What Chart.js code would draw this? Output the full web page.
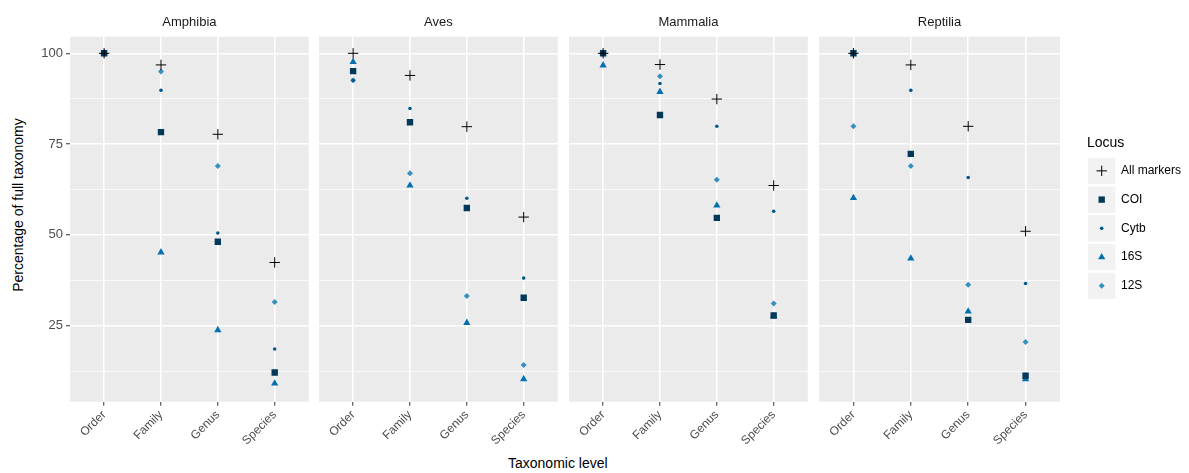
<!DOCTYPE html>
<html><head><meta charset="utf-8">
<script src="https://cdn.jsdelivr.net/npm/chart.js@4/dist/chart.umd.min.js"></script>
<style>
html,body{margin:0;padding:0;background:#fff;}
#wrap{position:relative;width:1189px;height:473px;overflow:hidden;font-family:"Liberation Sans",Arial,sans-serif;}
#wrap canvas{position:absolute;top:0;}
.atitle{position:absolute;color:#000;font-size:14px;line-height:16px;white-space:nowrap;}
</style></head><body>
<div id="wrap">
  <div id="xtitle" class="atitle" style="left:508px;top:455px;">Taxonomic level</div>
  <div id="ytitle" class="atitle" style="left:18px;top:205px;transform:translate(-50%,-50%) rotate(-90deg);">Percentage of full taxonomy</div>
</div>
<script>
// ---- data ----
const categories = ['Order', 'Family', 'Genus', 'Species'];
const classes = ['Amphibia', 'Aves', 'Mammalia', 'Reptilia'];
const loci = ['All markers', 'COI', 'Cytb', '16S', '12S'];
const yTickLabels = [25, 50, 75, 100];
const yMinorTicks = [12.5, 37.5, 62.5, 87.5];

const amphibiaAll  = [100, 96.8, 77.7, 42.4];
const amphibiaCOI  = [100, 78.3, 48.1, 12.1];
const amphibiaCytb = [100, 89.8, 50.5, 18.6];
const amphibia16S  = [100, 45.2, 23.8, 9.1];
const amphibia12S  = [100, 95.0, 69.0, 31.5];

const avesAll  = [100, 93.9, 79.8, 54.9];
const avesCOI  = [95.1, 81.0, 57.4, 32.7];
const avesCytb = [92.5, 84.8, 60.1, 38.1];
const aves16S  = [97.6, 63.6, 25.8, 10.3];
const aves12S  = [92.6, 67.0, 33.2, 14.2];

const mammaliaAll  = [100, 96.9, 87.4, 63.6];
const mammaliaCOI  = [100, 83.0, 54.7, 27.8];
const mammaliaCytb = [100, 91.7, 79.9, 56.5];
const mammalia16S  = [96.7, 89.4, 58.1, 27.6];
const mammalia12S  = [100, 93.7, 65.2, 31.1];

const reptiliaAll  = [100, 96.8, 79.9, 51.0];
const reptiliaCOI  = [100, 72.3, 26.6, 11.2];
const reptiliaCytb = [100, 89.8, 65.8, 36.6];
const reptilia16S  = [60.2, 43.5, 28.9, 10.3];
const reptilia12S  = [79.9, 69.0, 36.3, 20.5];

const seriesByClass = {
  Amphibia: [amphibiaAll, amphibiaCOI, amphibiaCytb, amphibia16S, amphibia12S],
  Aves:     [avesAll, avesCOI, avesCytb, aves16S, aves12S],
  Mammalia: [mammaliaAll, mammaliaCOI, mammaliaCytb, mammalia16S, mammalia12S],
  Reptilia: [reptiliaAll, reptiliaCOI, reptiliaCytb, reptilia16S, reptilia12S]
};

// ---- styles / layout ----
const FONT = '"Liberation Sans", Arial, sans-serif';
const locusStyle = [
  {pointStyle: 'cross',    radius: 5.2, color: '#000000', borderWidth: 1.0},
  {pointStyle: 'rect',     radius: 4.5, color: '#023858', borderWidth: 0},
  {pointStyle: 'circle',   radius: 1.8, color: '#045a8d', borderWidth: 0},
  {pointStyle: 'triangle', radius: 4.2, color: '#0570b0', borderWidth: 0},
  {pointStyle: 'rectRot',  radius: 3.0, color: '#3690c0', borderWidth: 0}
];
const W = 1189, H = 473;
const PANEL_TOP = 36.7, PANEL_BOTTOM = 401.7, PANEL_W = 241;
const panelLeft = [70, 319, 569, 819];

const isMajor = v => yTickLabels.includes(v);

const panelBg = {
  id: 'panelBg',
  beforeDraw(chart) {
    const {ctx, chartArea: a} = chart;
    ctx.save();
    ctx.fillStyle = '#ebebeb';
    ctx.fillRect(a.left, a.top, a.right - a.left, a.bottom - a.top);
    ctx.restore();
  }
};

const legendPlugin = {
  id: 'ggLegend',
  afterDraw(chart) {
    const ctx = chart.ctx;
    const x0 = chart.chartArea.right + 28;
    ctx.save();
    ctx.fillStyle = '#000';
    ctx.font = '14px ' + FONT;
    ctx.textAlign = 'left';
    ctx.textBaseline = 'middle';
    ctx.fillText('Locus', x0 - 1, 143.5);
    const keyW = 27.4, keyH = 26.3, step = 28.75, top0 = 157.7;
    loci.forEach((name, k) => {
      const ky = top0 + k * step;
      ctx.fillStyle = '#f2f2f2';
      ctx.fillRect(x0, ky, keyW, keyH);
      const st = locusStyle[k];
      ctx.fillStyle = st.color;
      ctx.strokeStyle = st.color;
      ctx.lineWidth = st.borderWidth;
      Chart.helpers.drawPoint(ctx, {pointStyle: st.pointStyle, radius: st.radius, borderWidth: st.borderWidth, rotation: 0}, x0 + keyW / 2, ky + keyH / 2);
      ctx.fillStyle = '#000';
      ctx.font = '12px ' + FONT;
      ctx.fillText(name, x0 + 33, ky + keyH / 2);
    });
    ctx.restore();
  }
};

const wrap = document.getElementById('wrap');
classes.forEach((cls, i) => {
  const canvasLeft = i === 0 ? 0 : panelLeft[i] - 10;
  const padLeft = i === 0 ? 0 : 10;
  const padRight = i === 3 ? W - (panelLeft[3] + PANEL_W) : 4;
  const canvasW = (panelLeft[i] - canvasLeft) + PANEL_W + padRight;
  const cv = document.createElement('canvas');
  cv.width = canvasW; cv.height = H;
  cv.style.left = canvasLeft + 'px';
  cv.style.width = canvasW + 'px'; cv.style.height = H + 'px';
  wrap.appendChild(cv);

  const series = seriesByClass[cls];
  const datasets = loci.map((name, k) => ({
    label: name,
    data: categories.map((c, j) => ({x: j, y: series[k][j]})),
    pointStyle: locusStyle[k].pointStyle,
    pointRadius: locusStyle[k].radius,
    pointHoverRadius: locusStyle[k].radius,
    backgroundColor: locusStyle[k].color,
    borderColor: locusStyle[k].color,
    borderWidth: locusStyle[k].borderWidth,
    showLine: false,
    order: k
  }));

  new Chart(cv, {
    type: 'scatter',
    data: {datasets},
    options: {
      responsive: false, animation: false, devicePixelRatio: 1, events: [],
      layout: {padding: {left: padLeft, right: padRight, top: 0, bottom: 0}},
      plugins: {
        legend: {display: false},
        tooltip: {enabled: false},
        title: {display: true, text: cls, fullSize: false, color: '#1a1a1a',
          font: {family: FONT, size: 13, weight: 'normal', lineHeight: 1.2},
          padding: {top: 14.4, bottom: PANEL_TOP - 14.4 - 15.6}}
      },
      scales: {
        x: {
          type: 'linear', min: -0.6, max: 3.6,
          afterBuildTicks: s => { s.ticks = categories.map((c, j) => ({value: j})); },
          afterFit: s => { s.height = H - PANEL_BOTTOM; },
          ticks: {autoSkip: false, maxRotation: 45, minRotation: 45, padding: 2,
            color: '#4d4d4d', font: {family: FONT, size: 12},
            callback: v => categories[v]},
          grid: {color: '#ffffff', lineWidth: 1.5, tickColor: '#333333', tickLength: 4, tickWidth: 1},
          border: {display: false}
        },
        y: {
          type: 'linear', min: 4.07, max: 104.57,
          afterBuildTicks: s => { s.ticks = yMinorTicks.concat(yTickLabels).sort((a, b) => a - b).map(v => ({value: v})); },
          afterFit: s => { s.width = i === 0 ? panelLeft[0] : 0; },
          ticks: {display: i === 0, padding: 3, color: '#4d4d4d', font: {family: FONT, size: 13},
            callback: v => isMajor(v) ? String(v) : ''},
          grid: {
            color: '#ffffff',
            lineWidth: c => (c.tick && isMajor(c.tick.value)) ? 1.5 : 0.75,
            drawTicks: i === 0, tickLength: 4, tickWidth: 1,
            tickColor: c => (c.tick && isMajor(c.tick.value)) ? '#333333' : 'rgba(0,0,0,0)'
          },
          border: {display: false}
        }
      }
    },
    plugins: i === 3 ? [panelBg, legendPlugin] : [panelBg]
  });
});
</script>
</body></html>
